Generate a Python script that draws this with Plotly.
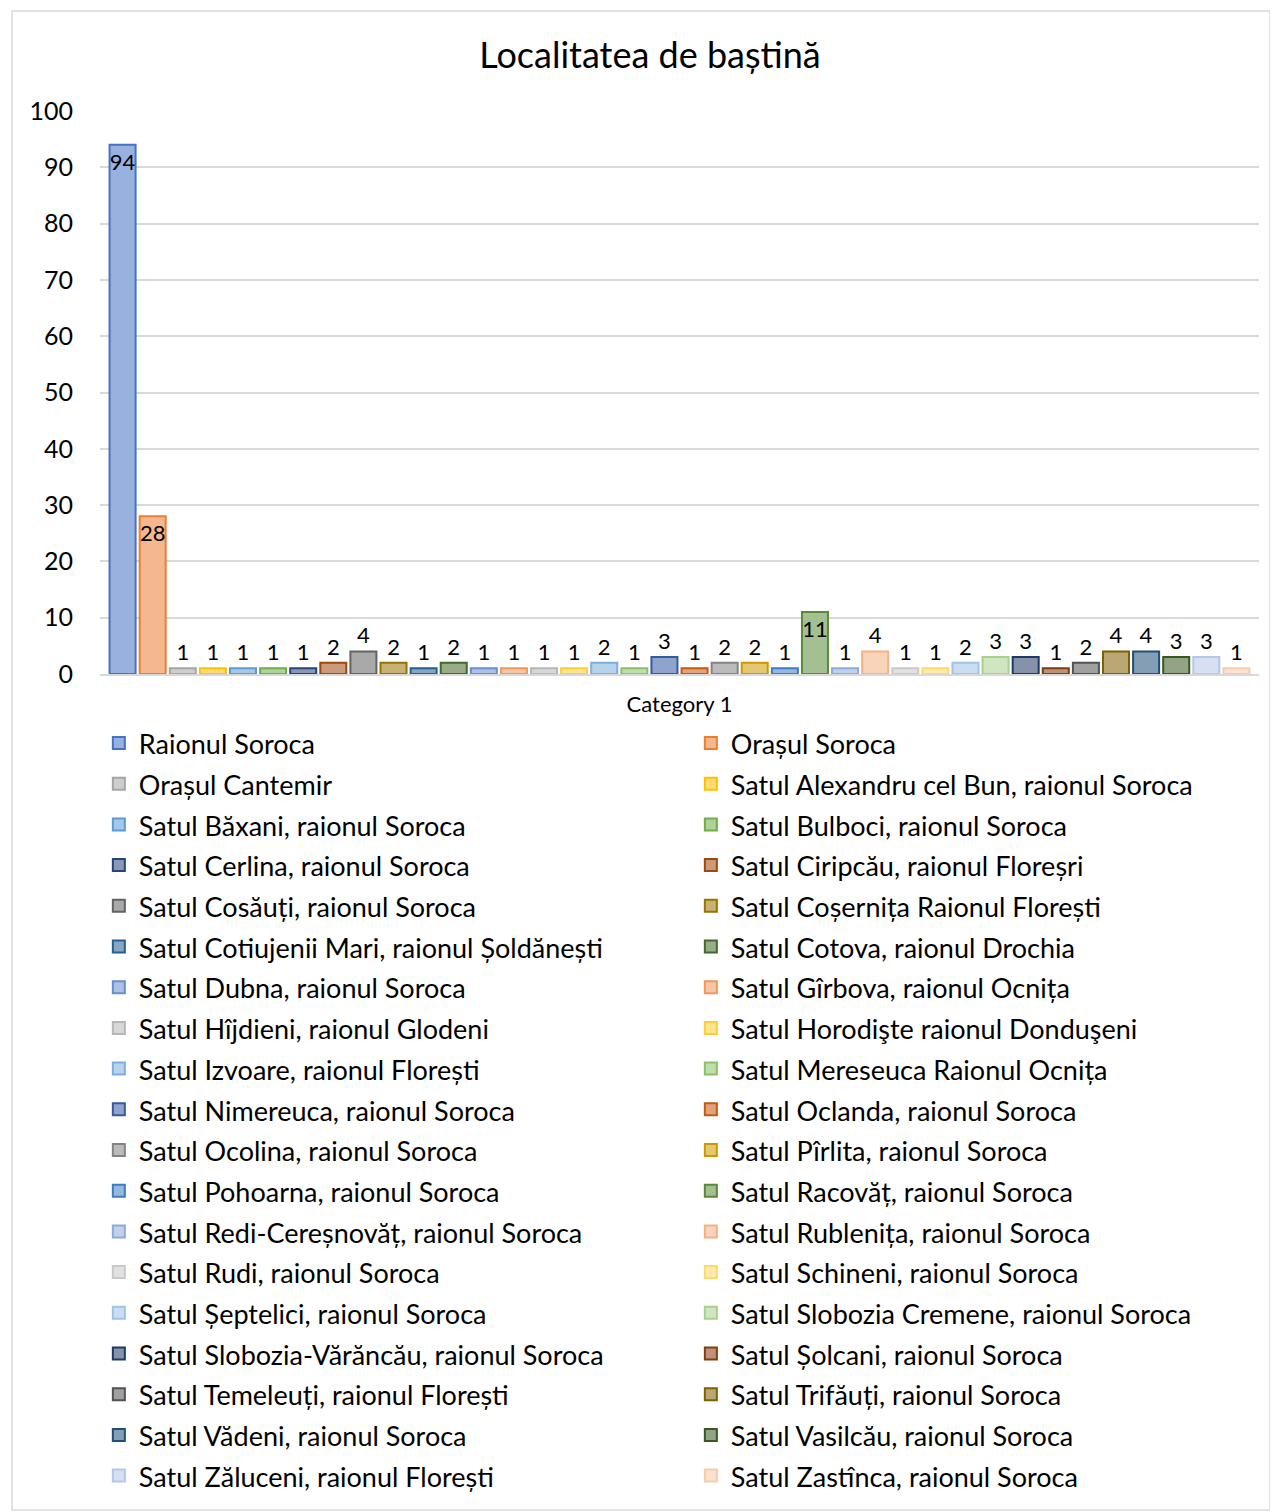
import plotly.graph_objects as go

# Datos
localitati = [
    "Raionul Soroca", "Orașul Soroca",
    "Orașul Cantemir", "Satul Alexandru cel Bun, raionul Soroca",
    "Satul Băxani, raionul Soroca", "Satul Bulboci, raionul Soroca",
    "Satul Cerlina, raionul Soroca", "Satul Ciripcău, raionul Floreșri",
    "Satul Cosăuți, raionul Soroca", "Satul Coșernița Raionul Florești",
    "Satul Cotiujenii Mari, raionul Șoldănești", "Satul Cotova, raionul Drochia",
    "Satul Dubna, raionul Soroca", "Satul Gîrbova, raionul Ocnița",
    "Satul Hîjdieni, raionul Glodeni", "Satul Horodişte raionul Donduşeni",
    "Satul Izvoare, raionul Florești", "Satul Mereseuca Raionul Ocnița",
    "Satul Nimereuca, raionul Soroca", "Satul Oclanda, raionul Soroca",
    "Satul Ocolina, raionul Soroca", "Satul Pîrlita, raionul Soroca",
    "Satul Pohoarna, raionul Soroca", "Satul Racovăț, raionul Soroca",
    "Satul Redi-Cereșnovăț, raionul Soroca", "Satul Rublenița, raionul Soroca",
    "Satul Rudi, raionul Soroca", "Satul Schineni, raionul Soroca",
    "Satul Șeptelici, raionul Soroca", "Satul Slobozia Cremene, raionul Soroca",
    "Satul Slobozia-Vărăncău, raionul Soroca", "Satul Șolcani, raionul Soroca",
    "Satul Temeleuți, raionul Florești", "Satul Trifăuți, raionul Soroca",
    "Satul Vădeni, raionul Soroca", "Satul Vasilcău, raionul Soroca",
    "Satul Zăluceni, raionul Florești", "Satul Zastînca, raionul Soroca",
]
valori = [94, 28, 1, 1, 1, 1, 1, 2, 4, 2, 1, 2, 1, 1, 1, 1, 2, 1, 3, 1,
          2, 2, 1, 11, 1, 4, 1, 1, 2, 3, 3, 1, 2, 4, 4, 3, 3, 1]
categorie = ["Category 1"]

# Culori (contur) - paleta Office
culori = [
    "#4472C4", "#ED7D31", "#A5A5A5", "#FFC000", "#5B9BD5", "#70AD47",
    "#264478", "#9E480E", "#636363", "#997300", "#255E91", "#43682B",
    "#698ED0", "#F1975A", "#B7B7B7", "#FFCD33", "#7CAFDD", "#8CC168",
    "#335AA1", "#C55A11", "#848484", "#CC9A00", "#3C7DC4", "#5A8A39",
    "#8FAADC", "#F4B183", "#C9C9C9", "#FFD966", "#9DC3E6", "#A9D18E",
    "#203864", "#843C0C", "#525252", "#7F6000", "#1F4E79", "#385723",
    "#B4C7E7", "#F8CBAD",
]


def umplere(hex_color, f=0.55):
    r, g, b = (int(hex_color[i:i + 2], 16) for i in (1, 3, 5))
    r, g, b = (round(c * f + 255 * (1 - f)) for c in (r, g, b))
    return f"#{r:02X}{g:02X}{b:02X}"


FONT = "Lato"

fig = go.Figure()

for nume, val, cul in zip(localitati, valori, culori):
    fig.add_trace(go.Bar(
        # textul legendei e mai mic decât fontul legendei -> rânduri mai aerisite
        name=f'<span style="font-size:27px">{nume}</span>',
        x=categorie,
        y=[val],
        text=[str(val)],
        textposition="inside" if val >= 10 else "outside",
        insidetextanchor="end",
        textfont=dict(size=22, color="#000000", family=FONT),
        constraintext="none",
        cliponaxis=False,
        marker=dict(color=umplere(cul), line=dict(color=cul, width=2)),
        hovertemplate=nume + ": %{y}<extra></extra>",
    ))

fig.update_layout(
    title=dict(text="Localitatea de baștină", x=0.5055, xanchor="center",
               y=0.9688, yanchor="middle",
               font=dict(size=36, color="#000000", family=FONT)),
    barmode="group",
    bargap=0.013,
    bargroupgap=0.136,
    width=1270,
    height=1504,
    margin=dict(l=92, r=19, t=103, b=838, autoexpand=False),
    plot_bgcolor="white",
    paper_bgcolor="white",
    font=dict(family=FONT, color="#000000"),
    showlegend=True,
    legend=dict(
        orientation="h",
        x=-0.001, xanchor="left",
        y=-0.0775, yanchor="top",
        entrywidth=547, entrywidthmode="pixels",
        font=dict(size=29, color="#000000", family=FONT),
        traceorder="normal",
        maxheight=900,
        bgcolor="rgba(0,0,0,0)",
    ),
    xaxis=dict(
        showgrid=False,
        showline=True, linecolor="#D9D9D9", linewidth=2,
        ticks="", ticklabelstandoff=10,
        tickfont=dict(size=22, color="#000000", family=FONT),
        fixedrange=True,
    ),
    yaxis=dict(
        range=[0, 100], dtick=10,
        showgrid=True, gridcolor="#D9D9D9", gridwidth=2,
        zeroline=False, showline=False,
        ticks="", ticklabelstandoff=26,
        tickfont=dict(size=25, color="#000000", family=FONT),
    ),
    shapes=[dict(
        type="rect", xref="paper", yref="paper",
        x0=-0.0759, x1=1.0095, y0=-1.485, y1=1.1776,
        line=dict(color="#D9D9D9", width=1.5), fillcolor="rgba(0,0,0,0)",
        layer="above",
    )],
)

fig.write_html("out.html")
